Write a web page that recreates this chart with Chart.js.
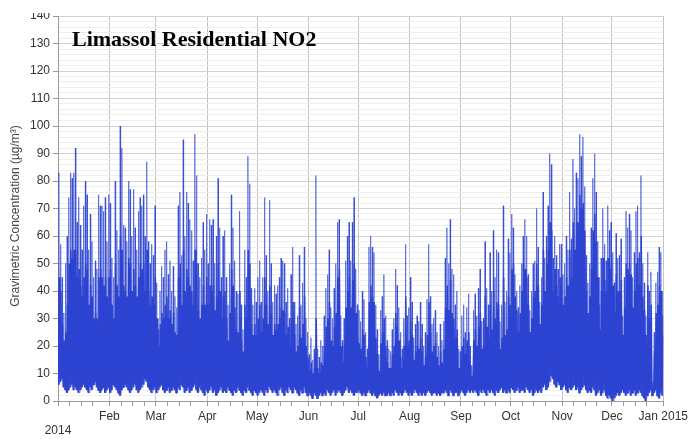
<!DOCTYPE html>
<html>
<head>
<meta charset="utf-8">
<title>Limassol Residential NO2</title>
<script src="https://cdn.jsdelivr.net/npm/chart.js@4.4.1/dist/chart.umd.min.js"></script>
<style>
  html, body { margin: 0; padding: 0; background: #fff; }
  #wrap { width: 691px; height: 439px; }
</style>
</head>
<body>
<div id="wrap"><canvas id="no2Chart" width="691" height="439"></canvas></div>
<script>
// Labels
const chartTitle = 'Limassol Residential NO2';
const yTitle = 'Gravimetric Concentration (µg/m³)';
const yearLabel = '2014';

// Month starts (day of year) and their tick labels
const monthStarts = [0, 31, 59, 90, 120, 151, 181, 212, 243, 273, 304, 334, 365];
const monthLabels = ['', 'Feb', 'Mar', 'Apr', 'May', 'Jun', 'Jul', 'Aug', 'Sep', 'Oct', 'Nov', 'Dec', 'Jan 2015'];
const yTickValues = [0, 10, 20, 30, 40, 50, 60, 70, 80, 90, 100, 110, 120, 130, 140];

// Daily readings, µg/m³ (one value per day of 2014)
const dayPeak = [
  83, 57, 45, 32, 50, 60, 74, 83, 81, 83,
  92, 65, 74, 64, 55, 71, 80, 75, 55, 68,
  58, 45, 51, 48, 75, 71, 71, 69, 74, 58,
  75, 72, 52, 45, 80, 62, 55, 100, 92, 64,
  63, 58, 80, 77, 60, 77, 63, 55, 69, 74,
  71, 75, 60, 87, 58, 50, 57, 53, 71, 43,
  26, 40, 49, 45, 55, 58, 46, 51, 40, 49,
  38, 34, 71, 76, 53, 95, 60, 76, 72, 66,
  62, 51, 97, 82, 50, 45, 52, 65, 55, 68,
  50, 66, 64, 66, 50, 60, 81, 63, 45, 60,
  62, 45, 35, 50, 75, 63, 51, 40, 39, 69,
  35, 26, 55, 45, 89, 79, 41, 35, 41, 36,
  45, 51, 36, 45, 74, 53, 40, 73, 50, 36,
  42, 39, 42, 45, 52, 51, 50, 36, 41, 30,
  46, 56, 36, 28, 31, 53, 35, 43, 56, 30,
  25, 17, 23, 15, 19, 82, 19, 16, 22, 20,
  31, 41, 46, 55, 34, 30, 41, 50, 65, 66,
  31, 22, 30, 51, 60, 65, 51, 65, 74, 48,
  35, 33, 29, 40, 37, 25, 19, 56, 60, 56,
  54, 35, 26, 17, 33, 38, 46, 31, 22, 19,
  18, 26, 30, 48, 42, 34, 25, 19, 30, 57,
  31, 34, 45, 36, 23, 28, 31, 29, 36, 28,
  20, 25, 37, 57, 38, 28, 30, 33, 25, 20,
  28, 22, 29, 52, 63, 50, 66, 48, 46, 35,
  40, 19, 18, 31, 35, 25, 34, 39, 20, 13,
  33, 39, 31, 41, 48, 29, 30, 58, 41, 35,
  54, 40, 62, 45, 55, 54, 29, 35, 71, 36,
  40, 59, 54, 68, 63, 46, 40, 34, 42, 50,
  60, 66, 60, 46, 33, 40, 50, 51, 70, 56,
  36, 45, 76, 52, 60, 71, 90, 86, 52, 60,
  53, 48, 57, 57, 46, 50, 60, 55, 76, 59,
  88, 70, 83, 81, 97, 89, 96, 78, 53, 43,
  50, 63, 81, 90, 76, 58, 35, 52, 70, 57,
  51, 71, 62, 65, 54, 43, 61, 52, 53, 59,
  31, 45, 69, 63, 68, 62, 45, 54, 69, 71,
  54, 82, 50, 43, 31, 54, 40, 47, 7, 25,
  43, 47, 56, 54, 31
];

const dayTypical = [
  45, 40, 28, 22, 25, 35, 50, 55, 52, 55,
  55, 45, 48, 42, 38, 45, 50, 48, 35, 42,
  38, 30, 32, 30, 45, 48, 45, 42, 45, 38,
  45, 48, 35, 30, 50, 42, 38, 60, 55, 42,
  40, 38, 52, 50, 40, 48, 42, 38, 45, 50,
  48, 50, 40, 55, 40, 35, 38, 35, 45, 30,
  20, 28, 32, 30, 35, 38, 30, 33, 28, 32,
  25, 24, 45, 50, 35, 55, 40, 48, 45, 42,
  40, 35, 55, 50, 33, 30, 35, 42, 35, 45,
  35, 42, 40, 42, 33, 38, 50, 40, 30, 38,
  40, 30, 22, 32, 48, 42, 34, 26, 25, 40,
  22, 18, 35, 30, 55, 50, 28, 24, 28, 24,
  30, 35, 25, 30, 45, 35, 28, 42, 32, 24,
  28, 26, 28, 30, 34, 33, 32, 24, 27, 20,
  30, 36, 24, 18, 20, 34, 23, 28, 38, 20,
  16, 11, 14, 10, 12, 30, 12, 10, 14, 13,
  20, 27, 30, 36, 22, 20, 27, 32, 45, 48,
  20, 14, 20, 34, 40, 45, 34, 44, 50, 32,
  23, 21, 19, 26, 24, 16, 12, 36, 42, 38,
  36, 23, 17, 11, 21, 25, 30, 20, 14, 12,
  12, 17, 20, 32, 27, 22, 16, 12, 20, 38,
  20, 22, 29, 24, 15, 18, 20, 19, 23, 18,
  13, 16, 24, 36, 25, 18, 20, 21, 16, 13,
  18, 14, 19, 34, 42, 33, 44, 32, 30, 23,
  26, 12, 12, 20, 23, 17, 22, 25, 13, 9,
  22, 26, 20, 27, 32, 19, 20, 38, 27, 23,
  35, 26, 40, 30, 36, 35, 19, 23, 45, 24,
  26, 38, 35, 48, 50, 38, 33, 25, 32, 40,
  50, 48, 45, 35, 25, 30, 38, 40, 50, 42,
  28, 35, 55, 40, 50, 55, 65, 62, 40, 48,
  42, 38, 45, 45, 35, 38, 45, 42, 55, 45,
  65, 55, 65, 65, 75, 70, 72, 62, 40, 32,
  38, 48, 62, 68, 58, 45, 26, 40, 52, 44,
  40, 52, 48, 50, 42, 32, 46, 40, 40, 44,
  24, 34, 50, 48, 50, 46, 34, 40, 50, 52,
  42, 60, 38, 33, 24, 42, 30, 35, 5, 18,
  32, 35, 42, 40, 24
];

const dayLow = [
  6, 7, 8, 5, 4, 3, 4, 5, 6, 4,
  5, 4, 3, 4, 5, 6, 5, 4, 3, 5,
  4, 6, 7, 5, 4, 3, 4, 5, 3, 4,
  5, 3, 4, 6, 5, 4, 3, 2, 4, 5,
  6, 5, 4, 3, 4, 5, 6, 4, 3, 4,
  5, 6, 8, 7, 5, 4, 3, 4, 5, 3,
  4, 5, 6, 4, 3, 4, 5, 3, 4, 5,
  4, 3, 5, 4, 6, 5, 3, 4, 5, 3,
  4, 5, 6, 4, 3, 5, 4, 3, 2, 4,
  3, 4, 5, 3, 4, 2, 3, 4, 5, 3,
  4, 3, 5, 4, 3, 2, 4, 3, 5, 4,
  3, 2, 4, 3, 5, 4, 3, 2, 4, 3,
  2, 3, 4, 3, 2, 4, 3, 5, 4, 3,
  4, 3, 2, 4, 5, 3, 2, 4, 3, 5,
  4, 3, 5, 4, 3, 2, 4, 3, 5, 3,
  2, 3, 2, 1, 3, 2, 1, 2, 3, 2,
  3, 2, 4, 3, 2, 3, 4, 2, 3, 4,
  3, 2, 3, 4, 5, 3, 4, 3, 2, 3,
  3, 4, 3, 2, 3, 2, 3, 4, 3, 2,
  3, 2, 1, 2, 3, 2, 3, 2, 2, 3,
  2, 3, 2, 4, 3, 2, 3, 2, 3, 4,
  3, 2, 3, 2, 3, 4, 3, 2, 3, 2,
  3, 2, 3, 4, 3, 2, 3, 3, 2, 3,
  2, 3, 3, 4, 3, 2, 4, 3, 2, 3,
  3, 2, 3, 4, 3, 2, 3, 4, 3, 4,
  3, 4, 3, 2, 4, 3, 4, 3, 2, 4,
  3, 4, 3, 2, 4, 3, 4, 5, 3, 4,
  3, 4, 3, 5, 4, 3, 4, 5, 3, 4,
  4, 3, 5, 4, 3, 4, 2, 3, 4, 3,
  4, 3, 5, 6, 4, 5, 7, 9, 8, 6,
  5, 7, 6, 4, 5, 6, 4, 3, 5, 4,
  5, 6, 4, 5, 3, 4, 5, 6, 4, 3,
  4, 3, 5, 4, 2, 3, 4, 2, 3, 4,
  2, 1, 2, 1, 0, 1, 2, 3, 2, 3,
  4, 3, 2, 3, 4, 2, 3, 4, 2, 3,
  4, 3, 2, 1, 0, 2, 3, 4, 2, 3,
  4, 2, 1, 3, 2
];

// dense daily body (night low <-> daytime level) and the thinner daily spikes
const bodyPoints = [];
const spikePoints = [];
for (let d = 0; d < dayPeak.length; d++) {
  bodyPoints.push({ x: d + 0.2, y: dayLow[d] });
  bodyPoints.push({ x: d + 0.7, y: dayTypical[d] });
  spikePoints.push({ x: d + 0.25, y: dayLow[d] });
  spikePoints.push({ x: d + 0.5, y: dayPeak[d] });
  spikePoints.push({ x: d + 0.75, y: dayLow[d] });
}

// small weekly tick marks on the time axis
const minorDays = [];
monthStarts.slice(0, -1).forEach(m => { minorDays.push(m + 7, m + 14, m + 21); });

const fontSans = '"Liberation Sans", Arial, Helvetica, sans-serif';

const overlayText = {
  id: 'overlayText',
  afterDraw(chart) {
    const ctx = chart.ctx;
    ctx.save();
    // the original picture is cut just above the top tick label
    ctx.fillStyle = '#fff';
    ctx.fillRect(0, 0, 56, 13);

    ctx.fillStyle = '#000';
    ctx.font = 'bold 22px "Liberation Serif", "Times New Roman", serif';
    ctx.textAlign = 'left';
    ctx.textBaseline = 'alphabetic';
    ctx.fillText(chartTitle, 72, 46);

    ctx.translate(16, 216);
    ctx.rotate(-Math.PI / 2);
    ctx.font = '12px ' + fontSans;
    ctx.fillStyle = '#444';
    ctx.textAlign = 'center';
    ctx.textBaseline = 'middle';
    ctx.fillText(yTitle, 0, 0);
    ctx.restore();
  }
};

new Chart(document.getElementById('no2Chart').getContext('2d'), {
  type: 'line',
  data: {
    datasets: [{
      label: 'NO2 daily level',
      data: bodyPoints,
      borderColor: 'rgb(44, 66, 208)',
      borderWidth: 1.5,
      pointRadius: 0,
      tension: 0,
      fill: false,
      order: 0
    }, {
      label: 'NO2 daily peak',
      data: spikePoints,
      borderColor: 'rgba(44, 66, 208, 0.6)',
      borderWidth: 1,
      pointRadius: 0,
      tension: 0,
      fill: false,
      order: 1
    }]
  },
  options: {
    responsive: false,
    animation: false,
    parsing: false,
    normalized: true,
    layout: { padding: { left: 0, right: 26, top: 16, bottom: 0 } },
    plugins: {
      legend: { display: false },
      tooltip: { enabled: false }
    },
    scales: {
      x: {
        type: 'linear',
        min: 0,
        max: 365,
        afterBuildTicks: scale => {
          scale.ticks = monthStarts.concat(minorDays).sort((a, b) => a - b).map(v => ({ value: v }));
        },
        afterFit: scale => { scale.height = 38; },
        ticks: {
          autoSkip: false,
          maxRotation: 0,
          padding: 3,
          color: '#333',
          font: { family: fontSans, size: 12 },
          callback: (value, index) => {
            const i = monthStarts.indexOf(value);
            if (i < 0) return '';
            if (i === 0) return ['', yearLabel];
            return monthLabels[i];
          }
        },
        grid: {
          color: ctx => (ctx.tick && monthStarts.includes(ctx.tick.value)) ? '#c2c2c2' : 'rgba(0,0,0,0)',
          tickColor: '#999',
          tickLength: 5
        },
        border: { color: '#999' }
      },
      y: {
        min: 0,
        max: 140,
        afterBuildTicks: scale => {
          const t = [];
          for (let v = 0; v <= 140; v += 2) t.push({ value: v });
          scale.ticks = t;
        },
        afterFit: scale => { scale.width = 58; },
        ticks: {
          autoSkip: false,
          padding: 3,
          color: '#333',
          font: { family: fontSans, size: 12 },
          callback: value => yTickValues.includes(value) ? String(value) : ''
        },
        grid: {
          color: ctx => (ctx.tick && ctx.tick.value % 10 === 0) ? '#d2d2d2' : '#eeeeee',
          tickColor: ctx => (ctx.tick && ctx.tick.value % 10 === 0) ? '#999' : 'rgba(0,0,0,0)',
          tickLength: 5
        },
        border: { color: '#999' }
      }
    }
  },
  plugins: [overlayText]
});
</script>
</body>
</html>
